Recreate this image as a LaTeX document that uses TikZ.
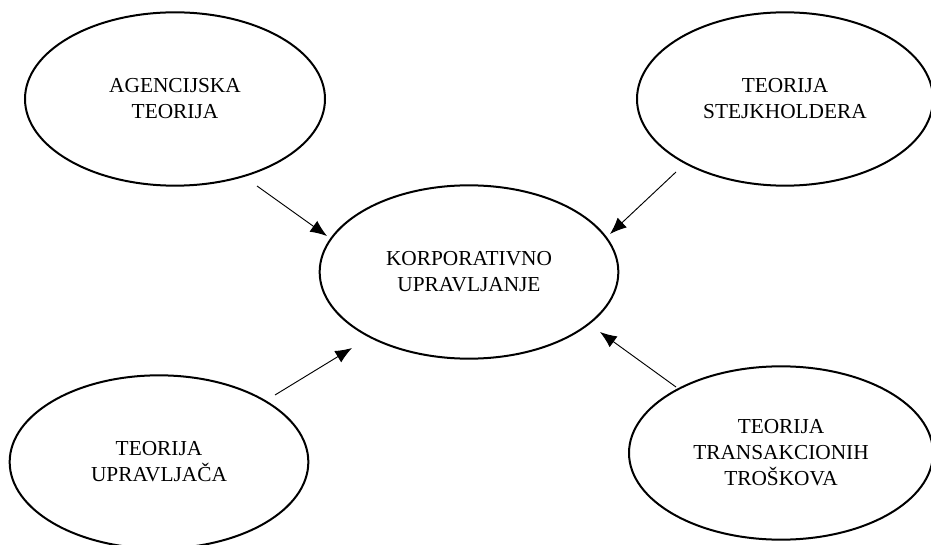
\documentclass[tikz,border=0pt]{standalone}
\usepackage{fontspec}
\setmainfont{Liberation Serif}
\usetikzlibrary{shapes.geometric,arrows.meta}

\tikzset{
  teorija/.style={ellipse, draw, line width=1.5pt, minimum width=#1,
    minimum height=130pt, align=center, inner sep=0pt,
    font=\fontsize{16}{19.5}\selectfont},
  teorija/.default=224pt,
  veza/.style={->, >={Latex[length=12.5pt,width=10pt]}, line width=0.7pt}
}

\begin{document}
\begin{tikzpicture}[x=0.75pt,y=-0.75pt]
  \useasboundingbox (0,0) rectangle (931,545);

  % ellipses
  \node[teorija=225pt] (agenc) at (175,99) {AGENCIJSKA\\TEORIJA};
  \node[teorija=222pt] (stejk) at (785,99) {TEORIJA\\STEJKHOLDERA};
  \node[teorija] (korp) at (469,272) {KORPORATIVNO\\UPRAVLJANJE};
  \node[teorija] (upravlj) at (159,462) {TEORIJA\\UPRAVLJAČA};
  \node[teorija=228pt] (trosk) at (781,453) {TEORIJA\\TRANSAKCIONIH\\TROŠKOVA};

  % arrow ends
  \coordinate (agenc-out) at (257,186);
  \coordinate (agenc-in) at (327,236);
  \coordinate (stejk-out) at (676,172);
  \coordinate (stejk-in) at (610,234);
  \coordinate (upravlj-out) at (275,395);
  \coordinate (upravlj-in) at (352,348);
  \coordinate (trosk-out) at (676,387);
  \coordinate (trosk-in) at (600,332);

  \draw[veza] (agenc-out) -- (agenc-in);
  \draw[veza] (stejk-out) -- (stejk-in);
  \draw[veza] (upravlj-out) -- (upravlj-in);
  \draw[veza] (trosk-out) -- (trosk-in);
\end{tikzpicture}
\end{document}
